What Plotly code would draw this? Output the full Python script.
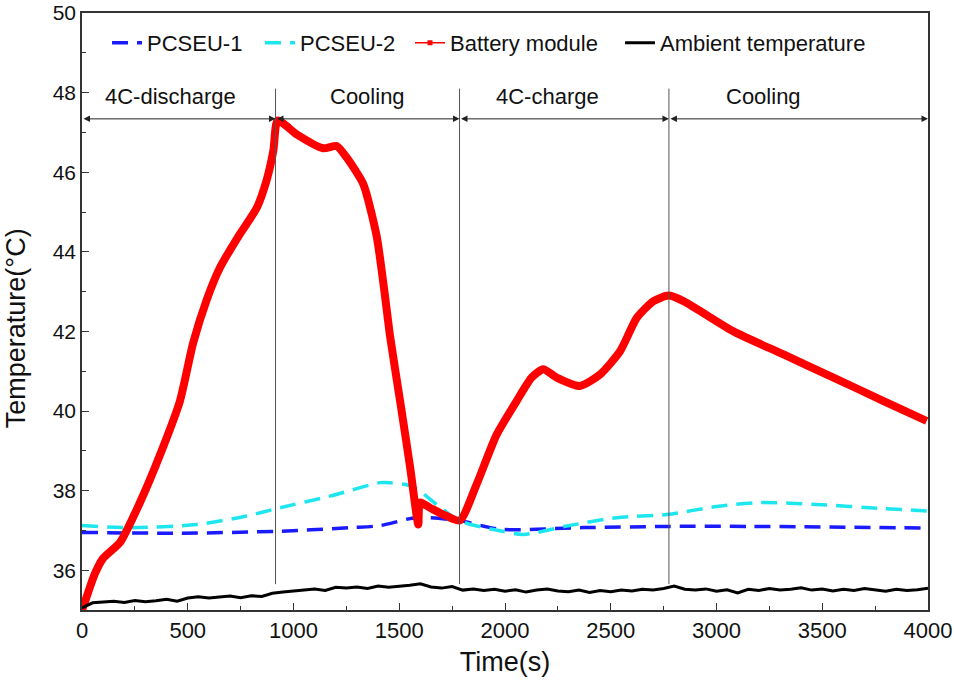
import plotly.graph_objects as go

# ---------------- data ----------------
battery_t = [0, 20, 60, 100, 180, 274, 369, 463, 525, 590, 652, 747, 826, 873, 905, 925,
             1015, 1141, 1204, 1251, 1330, 1393, 1430, 1456, 1504, 1551, 1590, 1598, 1645,
             1724, 1787, 1866, 1960, 2055, 2126, 2181, 2244, 2355, 2450, 2544, 2623, 2702,
             2773, 2844, 3080, 3317, 3553, 3790, 3994]
battery_T = [35.0, 35.3, 35.9, 36.3, 36.7, 37.7, 38.9, 40.25, 41.7, 42.8, 43.6, 44.45, 45.1,
             45.8, 46.55, 47.3, 46.95, 46.6, 46.66, 46.37, 45.7, 44.4, 43.0, 41.9, 40.25,
             38.6, 37.15, 37.7, 37.57, 37.36, 37.25, 38.16, 39.4, 40.25, 40.84, 41.05, 40.84,
             40.63, 40.92, 41.5, 42.34, 42.76, 42.9, 42.76, 42.0, 41.42, 40.84, 40.25, 39.75]

pcseu1_t = [0, 463, 936, 1267, 1409, 1582, 1787, 1976, 2370, 2773, 3158, 3994]
pcseu1_T = [36.95, 36.93, 36.98, 37.07, 37.12, 37.32, 37.24, 37.03, 37.07, 37.1, 37.1, 37.06]

pcseu2_t = [0, 227, 542, 778, 936, 1172, 1409, 1456, 1565, 1677, 1787, 1976, 2087, 2292,
            2528, 2765, 3001, 3206, 3474, 3790, 3994]
pcseu2_T = [37.12, 37.07, 37.15, 37.36, 37.57, 37.86, 38.2, 38.2, 38.1, 37.65, 37.24, 36.99,
            36.9, 37.11, 37.32, 37.4, 37.6, 37.7, 37.65, 37.55, 37.49]

ambient_t = list(range(0, 4001, 50))
ambient_T = [35.05, 35.18, 35.2, 35.22, 35.19, 35.24, 35.21, 35.23, 35.27, 35.22,
             35.3, 35.33, 35.3, 35.32, 35.35, 35.31, 35.36, 35.34, 35.42, 35.45,
             35.48, 35.5, 35.53, 35.49, 35.57, 35.55, 35.58, 35.54, 35.6, 35.57,
             35.59, 35.62, 35.66, 35.58, 35.55, 35.59, 35.5, 35.53, 35.49, 35.52,
             35.47, 35.51, 35.45, 35.5, 35.53, 35.48, 35.46, 35.5, 35.44, 35.49,
             35.46, 35.5, 35.48, 35.52, 35.5, 35.54, 35.6, 35.52, 35.5, 35.53,
             35.47, 35.51, 35.43, 35.52, 35.49, 35.54, 35.5, 35.52, 35.56, 35.5,
             35.53, 35.48, 35.52, 35.49, 35.54, 35.5, 35.47, 35.52, 35.49, 35.51, 35.55]

phase_bounds = [0, 915, 1785, 2775, 4000]
phase_labels = ["4C-discharge", "Cooling", "4C-charge", "Cooling"]
phase_label_x = [420, 1350, 2200, 3220]
arrow_y = 47.34
label_y = 47.9
vline_y = [35.65, 48.1]

FONT = "Liberation Sans, Arial, sans-serif"
TXT = "#111111"

fig = go.Figure()

fig.add_trace(go.Scatter(x=pcseu1_t, y=pcseu1_T, mode="lines", name="PCSEU-1", legend="legend",
                         line=dict(color="#1a1aff", width=3.5, dash="16px,9px",
                                   shape="spline", smoothing=0.8)))
fig.add_trace(go.Scatter(x=pcseu2_t, y=pcseu2_T, mode="lines", name="PCSEU-2", legend="legend2",
                         line=dict(color="#1ee6ee", width=3.5, dash="16px,9px",
                                   shape="spline", smoothing=0.8)))
fig.add_trace(go.Scatter(x=battery_t, y=battery_T, mode="lines", name="Battery module",
                         line=dict(color="#ff0000", width=8, shape="spline", smoothing=0.6),
                         showlegend=False))
fig.add_trace(go.Scatter(x=[None], y=[None], mode="lines+markers", name="Battery module",
                         legend="legend3",
                         line=dict(color="#ff0000", width=1.5),
                         marker=dict(symbol="square", size=5, color="#ff0000")))
fig.add_trace(go.Scatter(x=ambient_t, y=ambient_T, mode="lines", name="Ambient temperature",
                         legend="legend4", line=dict(color="black", width=3)))

shapes = []
for b in phase_bounds[1:-1]:
    shapes.append(dict(type="line", xref="x", yref="y", x0=b, x1=b,
                       y0=vline_y[0], y1=vline_y[1],
                       line=dict(color="#555555", width=1)))

annotations = []
for i in range(len(phase_labels)):
    annotations.append(dict(x=phase_bounds[i + 1], y=arrow_y, ax=phase_bounds[i], ay=arrow_y,
                            xref="x", yref="y", axref="x", ayref="y", text="",
                            showarrow=True, arrowside="end+start", arrowhead=2,
                            arrowsize=1.3, arrowwidth=1, arrowcolor="#222222",
                            standoff=0, startstandoff=0))
    annotations.append(dict(x=phase_label_x[i], y=label_y, xref="x", yref="y",
                            text=phase_labels[i], showarrow=False,
                            font=dict(family=FONT, size=22, color=TXT)))

# y-axis title placed as rotated text
annotations.append(dict(x=-0.078, y=0.472, xref="paper", yref="paper", text="Temperature(°C)",
                        textangle=-90, showarrow=False, xanchor="center", yanchor="middle",
                        font=dict(family=FONT, size=27, color=TXT)))


def leg(xpos):
    return dict(orientation="h", x=xpos, y=0.95, xanchor="left", yanchor="middle",
                bgcolor="rgba(0,0,0,0)", font=dict(family=FONT, size=22, color=TXT),
                itemwidth=30)


fig.update_layout(
    width=954, height=687,
    margin=dict(l=82, r=26, t=13, b=77, autoexpand=False),
    paper_bgcolor="white", plot_bgcolor="white",
    font=dict(family=FONT, color=TXT),
    showlegend=True,
    legend=leg(0.0296), legend2=leg(0.2104), legend3=leg(0.3877), legend4=leg(0.6359),
    shapes=shapes, annotations=annotations,
    xaxis=dict(range=[0, 4000], dtick=500, tick0=0, showgrid=False, zeroline=False,
               automargin=False,
               showline=True, linecolor="#333333", linewidth=1.5, mirror=True,
               ticks="inside", ticklen=7, tickcolor="#333333",
               minor=dict(dtick=250, ticks="inside", ticklen=4, tickcolor="#333333"),
               tickfont=dict(family=FONT, size=22, color=TXT),
               title=dict(text="Time(s)", font=dict(family=FONT, size=27, color=TXT),
                          standoff=10)),
    yaxis=dict(range=[35, 50], dtick=2, tick0=0, showgrid=False, zeroline=False,
               automargin=False,
               showline=True, linecolor="#333333", linewidth=1.5, mirror=True,
               ticks="inside", ticklen=7, tickcolor="#333333",
               minor=dict(dtick=1, ticks="inside", ticklen=4, tickcolor="#333333"),
               tickfont=dict(family=FONT, size=21, color=TXT)),
)

fig.write_html("out.html")
